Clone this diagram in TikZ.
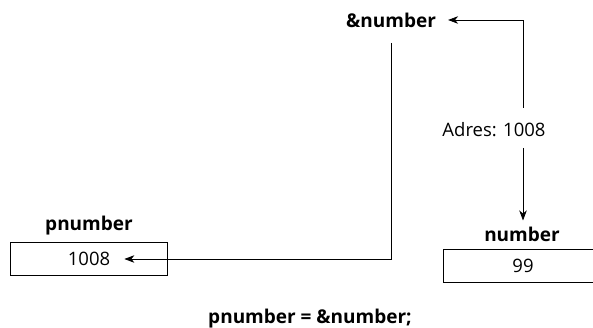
\documentclass[tikz,border=0pt]{standalone}
\usepackage{fontspec}
\setmainfont{Open Sans}
\usetikzlibrary{arrows.meta}
\begin{document}
\begin{tikzpicture}[x=1pt,y=-1pt,
  every node/.style={font=\fontsize{18.5}{22}\selectfont, inner sep=0pt},
  lbl/.style={font=\fontsize{19}{22}\selectfont\bfseries},
  cell/.style={draw, line width=0.8pt},
  arr/.style={line width=0.8pt, -{Stealth[length=10pt,width=7.5pt,inset=3pt]}}]
  \useasboundingbox (0,0) rectangle (593,328);
  \begin{scope}
    \clip (0,0) rectangle (593,328);
    % memory cells
    \draw[cell] (10,242) rectangle (167,275);
    \draw[cell] (443,249) rectangle (610,282);
  \end{scope}
  % texts
  \node[lbl] (amp) at (391,20) {\&number};
  \node (adres) at (494,130) {Adres: 1008};
  \node[lbl] (numlabel) at (522,234) {number};
  \node (numval) at (523,266) {99};
  \node[lbl] (plabel) at (89,226) {pnumber};
  \node (pval) at (89,259) {1008};
  \node[lbl] (code) at (310,319) {pnumber = \&number;};
  % connectors
  \coordinate (a1) at (523,108);
  \coordinate (a2) at (523,148);
  \coordinate (a3) at (391,43);
  \draw[arr, shorten >=12pt] (a1) |- (amp.east);
  \draw[arr, shorten >=6pt] (a2) -- (numlabel.north -| a2);
  \draw[arr, shorten >=14pt] (a3) |- (pval.east);
\end{tikzpicture}
\end{document}
